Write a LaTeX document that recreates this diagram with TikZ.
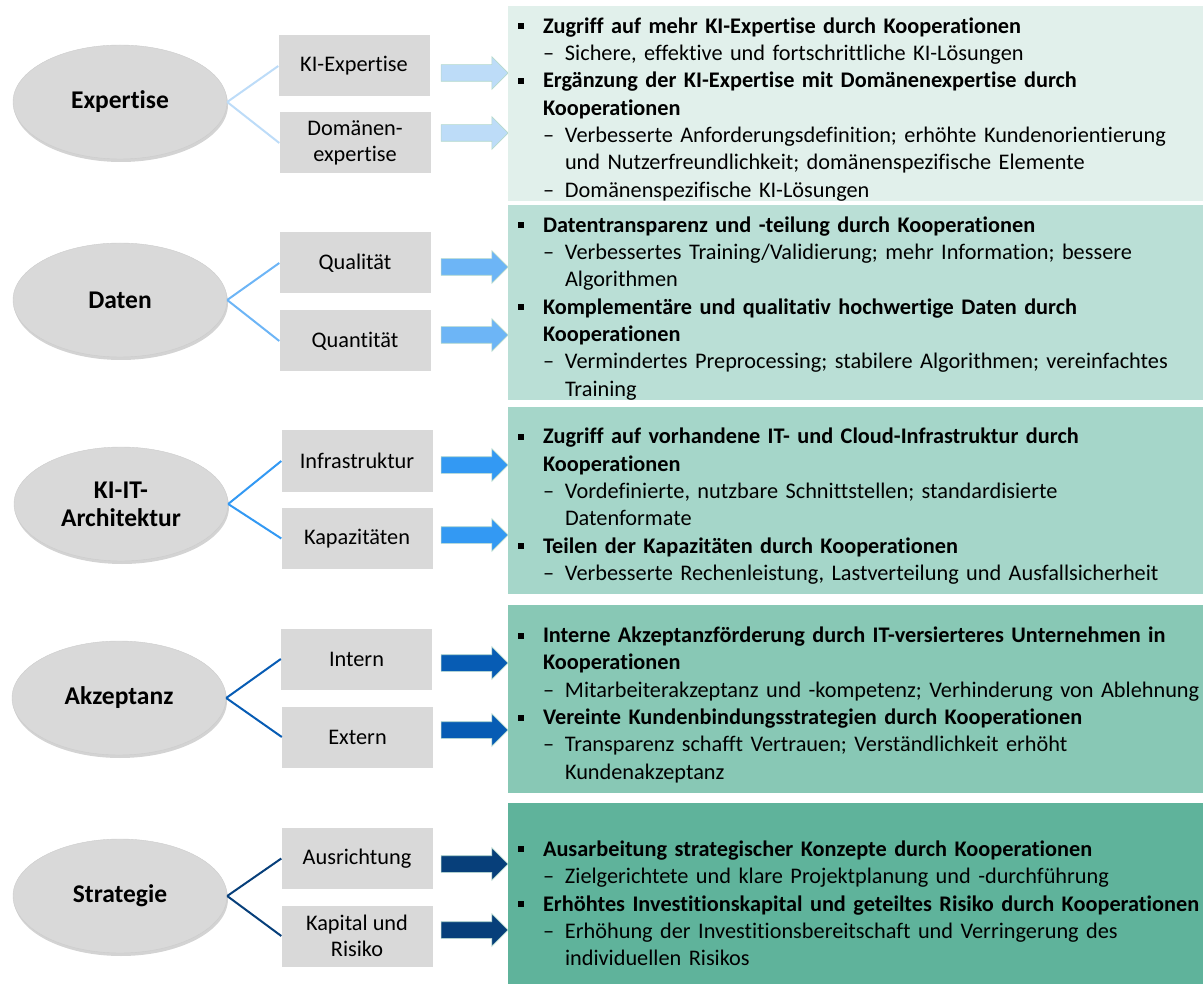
\documentclass[tikz,border=0pt]{standalone}
\usepackage{fontspec}
\setmainfont{Carlito}[Ligatures={NoCommon}, RawFeature={-liga;-clig;-calt}]
\usetikzlibrary{shapes.geometric,shapes.arrows,shadows}
\definecolor{hellgrau}{HTML}{D9D9D9}
\definecolor{rand}{HTML}{B4D9CC}
\definecolor{blau1}{HTML}{BDDCF8}
\definecolor{blau2}{HTML}{6DB5F6}
\definecolor{blau3}{HTML}{3399F3}
\definecolor{blau4}{HTML}{075CB4}
\definecolor{blau5}{HTML}{073F7A}
\definecolor{gruen1}{HTML}{E1F0EB}
\definecolor{gruen2}{HTML}{BADFD6}
\definecolor{gruen3}{HTML}{A5D6C9}
\definecolor{gruen4}{HTML}{88C8B5}
\definecolor{gruen5}{HTML}{5FB39B}
\newcommand{\pkt}[1]{\par\noindent\hangindent=35pt\hangafter=1\hspace*{10pt}\makebox[25pt][l]{\rule[4pt]{6pt}{6pt}}\textbf{#1}}
\newcommand{\upkt}[1]{\par\noindent\hangindent=57pt\hangafter=1\hspace*{35pt}\makebox[22pt][l]{\textendash}#1}

\begin{document}
\begin{tikzpicture}[x=1pt,y=-1pt,
	kreis/.style={ellipse, fill=hellgrau, draw=black!20, minimum width=214pt, minimum height=114pt, inner sep=0pt, align=center, font=\fontsize{25.5}{28}\selectfont\bfseries, drop shadow={shadow xshift=1pt, shadow yshift=-3pt, opacity=0.35}},
	kasten/.style={rectangle, fill=hellgrau, minimum width=151pt, minimum height=61pt, inner sep=0pt, align=center, font=\fontsize{22.3}{26}\selectfont},
	pfeil/.style={single arrow, minimum height=67pt, inner xsep=0pt, inner ysep=8pt, single arrow head extend=8pt, draw=rand, line width=0.6pt},
	feld/.style={rectangle, text width=695pt, inner xsep=0pt, inner ysep=0pt, minimum height=189pt, align=left, font=\fontsize{22.3}{27.3}\selectfont},
	ast/.style={line width=2pt}]
	\useasboundingbox (0,0) rectangle (1203,984);

	\node (expertise) [kreis] at (120,102) {Expertise};
	\node (kie) [kasten] at (354,66) {KI-Expertise};
	\node (dom) [kasten] at (355,143) {Domänen-\\expertise};
	\draw[ast, blau1] (expertise.east) -- (kie.west);
	\draw[ast, blau1] (expertise.east) -- (dom.west);
	\node (p1a) [pfeil, fill=blau1] at (470.5,73) {};
	\node (p1b) [pfeil, fill=blau1] at (470.5,133) {};
	\node (feld1) [feld, fill=gruen1] at (855.5,103.5) {
		\pkt{Zugriff auf mehr KI-Expertise durch Kooperationen}
		\upkt{Sichere, effektive und fortschrittliche KI-Lösungen}
		\pkt{Ergänzung der KI-Expertise mit Domänenexpertise durch\newline Kooperationen}
		\upkt{Verbesserte Anforderungsdefinition; erhöhte Kundenorientierung\newline und Nutzerfreundlichkeit; domänenspezifische Elemente}
		\upkt{Domänenspezifische KI-Lösungen}\par\vspace*{4pt}};

	\node (daten) [kreis] at (120,300) {Daten};
	\node (qual) [kasten] at (355,263) {Qualität};
	\node (quant) [kasten] at (355,341) {Quantität};
	\draw[ast, blau2] (daten.east) -- (qual.west);
	\draw[ast, blau2] (daten.east) -- (quant.west);
	\node (p2a) [pfeil, fill=blau2] at (470.5,267) {};
	\node (p2b) [pfeil, fill=blau2] at (470.5,335) {};
	\node (feld2) [feld, fill=gruen2] at (855.5,302.5) {
		\pkt{Datentransparenz und -teilung durch Kooperationen}
		\upkt{Verbessertes Training/Validierung; mehr Information; bessere\newline Algorithmen}
		\pkt{Komplementäre und qualitativ hochwertige Daten durch\newline Kooperationen}
		\upkt{Vermindertes Preprocessing; stabilere Algorithmen; vereinfachtes\newline Training}\par\vspace*{2pt}};

	\node (kiit) [kreis] at (121,504) {KI-IT-\\Architektur};
	\node (infra) [kasten] at (357,461) {Infrastruktur};
	\node (kap) [kasten] at (357,538.5) {Kapazitäten};
	\draw[ast, blau3] (kiit.east) -- (infra.west);
	\draw[ast, blau3] (kiit.east) -- (kap.west);
	\node (p3a) [pfeil, fill=blau3] at (470.5,465) {};
	\node (p3b) [pfeil, fill=blau3] at (470.5,535) {};
	\node (feld3) [feld, fill=gruen3, minimum height=187pt] at (855.5,500.5) {
		\pkt{Zugriff auf vorhandene IT- und Cloud-Infrastruktur durch\newline Kooperationen}
		\upkt{Vordefinierte, nutzbare Schnittstellen; standardisierte\newline Datenformate}
		\pkt{Teilen der Kapazitäten durch Kooperationen}
		\upkt{Verbesserte Rechenleistung, Lastverteilung und Ausfallsicherheit}\par};

	\node (akz) [kreis] at (119,698) {Akzeptanz};
	\node (intern) [kasten] at (356.5,659) {Intern};
	\node (extern) [kasten] at (357.5,737) {Extern};
	\draw[ast, blau4] (akz.east) -- (intern.west);
	\draw[ast, blau4] (akz.east) -- (extern.west);
	\node (p4a) [pfeil, fill=blau4] at (470.5,663) {};
	\node (p4b) [pfeil, fill=blau4] at (470.5,730) {};
	\node (feld4) [feld, fill=gruen4, minimum height=188pt] at (855.5,699) {
		\pkt{Interne Akzeptanzförderung durch IT-versierteres Unternehmen in\newline Kooperationen}
		\upkt{Mitarbeiterakzeptanz und -kompetenz; Verhinderung von Ablehnung}
		\pkt{Vereinte Kundenbindungsstrategien durch Kooperationen}
		\upkt{Transparenz schafft Vertrauen; Verständlichkeit erhöht\newline Kundenakzeptanz}\par};

	\node (strat) [kreis] at (120,896) {Strategie};
	\node (ausr) [kasten] at (357,858.5) {Ausrichtung};
	\node (kapr) [kasten] at (357,936) {Kapital und\\Risiko};
	\draw[ast, blau5] (strat.east) -- (ausr.west);
	\draw[ast, blau5] (strat.east) -- (kapr.west);
	\node (p5a) [pfeil, fill=blau5] at (470.5,864) {};
	\node (p5b) [pfeil, fill=blau5] at (470.5,930) {};
	\node (feld5) [feld, fill=gruen5] at (855.5,897.5) {
		\pkt{Ausarbeitung strategischer Konzepte durch Kooperationen}
		\upkt{Zielgerichtete und klare Projektplanung und -durchführung}
		\pkt{Erhöhtes Investitionskapital und geteiltes Risiko durch Kooperationen}
		\upkt{Erhöhung der Investitionsbereitschaft und Verringerung des\newline individuellen Risikos}\par};
\end{tikzpicture}
\end{document}
